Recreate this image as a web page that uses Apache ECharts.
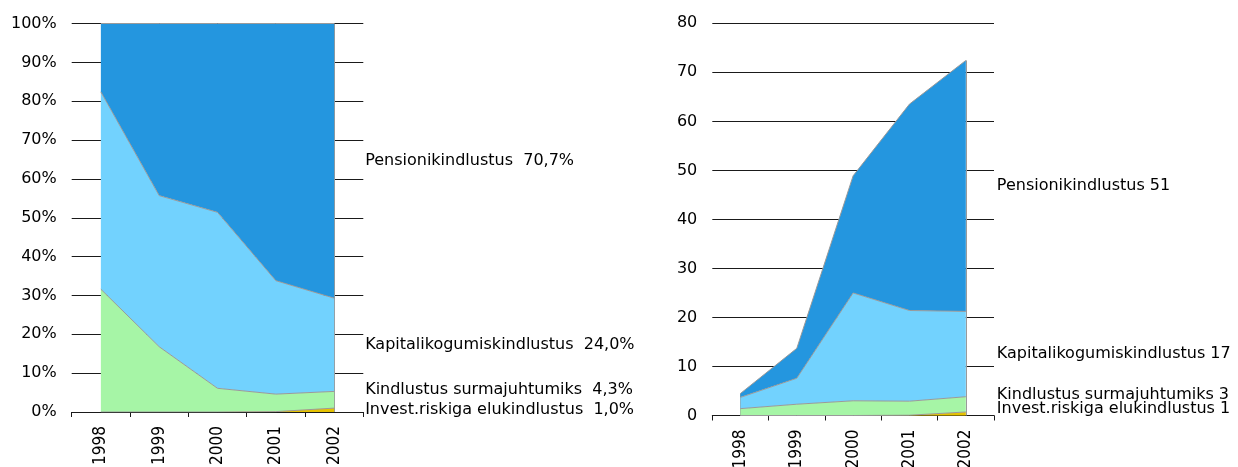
<!DOCTYPE html>
<html><head><meta charset="utf-8">
<script src="https://cdn.jsdelivr.net/npm/echarts@6/dist/echarts.min.js"></script>
<style>html,body{margin:0;padding:0;background:#fff}#c{width:1238px;height:467px}</style>
</head><body><div id="c"></div>
<script>
// ---------- data ----------
const years = ['1998', '1999', '2000', '2001', '2002'];
const seriesNames = ['Invest.riskiga elukindlustus', 'Kindlustus surmajuhtumiks', 'Kapitalikogumiskindlustus', 'Pensionikindlustus'];
// left chart: shares, %
const shareInvest  = [0, 0, 0, 0.1, 1.0];
const shareSurm    = [31.6, 16.8, 6.1, 4.5, 4.3];
const shareKapital = [50.8, 38.9, 45.3, 29.2, 24.0];
const sharePension = [17.6, 44.3, 48.6, 66.2, 70.7];
// right chart: volumes
const volInvest  = [0, 0, 0, 0.06, 0.72];
const volSurm    = [1.4, 2.3, 3.0, 2.86, 3.11];
const volKapital = [2.3, 5.3, 22.0, 18.5, 17.4];
const volPension = [0.8, 6.1, 23.9, 42.1, 51.2];
// axis ticks
const shareTicks = [0, 10, 20, 30, 40, 50, 60, 70, 80, 90, 100];
const volTicks = [0, 10, 20, 30, 40, 50, 60, 70, 80];

// ---------- style ----------
const COLORS = ['#E6C200', '#A6F5A6', '#72D2FE', '#2496DF'];
const EDGE = '#9a9a9a';
const GRIDC = '#1a1a1a';
const FONT = "'DejaVu Sans', sans-serif";
const XFONT = "'DejaVu Sans Condensed', 'DejaVu Sans', sans-serif";
const labelShiftLeft = [0, -10, 0, 0];
const labelShiftRight = [-5, -10, 0, 0];

const leftSets = [shareInvest, shareSurm, shareKapital, sharePension];
const rightSets = [volInvest, volSurm, volKapital, volPension];

function totals(sets) {
  return years.map((_, i) => sets.reduce((s, a) => s + a[i], 0));
}

function buildSeries(sets, axisIdx, fmt, shifts, stackName) {
  const out = [];
  const tot = totals(sets);
  const last = years.length - 1;
  sets.forEach((arr, k) => {
    const s = {
      type: 'line', name: seriesNames[k], stack: stackName,
      xAxisIndex: axisIdx, yAxisIndex: axisIdx,
      data: arr, showSymbol: false, symbol: 'none', smooth: false,
      lineStyle: { color: EDGE, width: 1 },
      areaStyle: { color: COLORS[k], opacity: 1 },
      itemStyle: { color: COLORS[k] },
      z: 10 - k, animation: false, silent: true
    };
    if (k === 0) {
      s.markLine = {
        silent: true, symbol: 'none', animation: false,
        lineStyle: { color: EDGE, type: 'solid', width: 1 },
        label: { show: false },
        data: [
          [{ coord: [years[0], 0] }, { coord: [years[0], tot[0]] }],
          [{ coord: [years[last], 0] }, { coord: [years[last], tot[last]] }]
        ]
      };
    }
    out.push(s);
  });
  // labels at mid of each band at last year
  let base = 0;
  const labelData = sets.map((arr, k) => {
    const v = arr[last];
    const mid = base + v / 2;
    base += v;
    return {
      value: [years[last], mid],
      label: { offset: [0, shifts[k]], color: '#000', opacity: 1, formatter: seriesNames[k] + fmt(v) }
    };
  });
  out.push({
    type: 'scatter', xAxisIndex: axisIdx, yAxisIndex: axisIdx,
    symbolSize: 0, silent: true, animation: false, z: 20, clip: false,
    itemStyle: { opacity: 1, color: '#000' },
    data: labelData,
    label: { show: true, position: 'right', distance: 31, color: '#000', opacity: 1,
      textBorderWidth: 0, textShadowBlur: 0,
      fontFamily: FONT, fontSize: 16, align: 'left', verticalAlign: 'middle' }
  });
  return out;
}

const fmtShare = v => '  ' + v.toFixed(1).replace('.', ',') + '%';
const fmtVol = v => ' ' + Math.round(v);

function xAxis(gi) {
  return {
    type: 'category', gridIndex: gi, data: years, boundaryGap: true,
    axisLine: { show: true, lineStyle: { color: GRIDC, width: 1 } },
    axisTick: { show: true, length: 5, alignWithLabel: false, lineStyle: { color: GRIDC } },
    axisLabel: { rotate: 90, margin: 14, color: '#000', fontFamily: XFONT, fontSize: 17, interval: 0 },
    splitLine: { show: false }
  };
}
function yAxis(gi, ticks, suffix) {
  return {
    type: 'value', gridIndex: gi,
    min: ticks[0], max: ticks[ticks.length - 1], interval: ticks[1] - ticks[0],
    axisLine: { show: false }, axisTick: { show: false },
    axisLabel: { margin: 15, color: '#000', fontFamily: FONT, fontSize: 16,
      formatter: v => v + suffix },
    splitLine: { show: true, lineStyle: { color: GRIDC, width: 1 } }
  };
}

const chart = echarts.init(document.getElementById('c'), null, { renderer: 'canvas' });
chart.setOption({
  backgroundColor: '#fff',
  animation: false,
  grid: [
    { left: 71.7, top: 23.5, width: 291.6, height: 388.5, containLabel: false, outerBoundsMode: 'none' },
    { left: 712.3, top: 23.3, width: 281.7, height: 392.2, containLabel: false, outerBoundsMode: 'none' }
  ],
  xAxis: [xAxis(0), xAxis(1)],
  yAxis: [yAxis(0, shareTicks, '%'), yAxis(1, volTicks, '')],
  series: [].concat(
    buildSeries(leftSets, 0, fmtShare, labelShiftLeft, 'L'),
    buildSeries(rightSets, 1, fmtVol, labelShiftRight, 'R')
  )
});
</script>
</body></html>
